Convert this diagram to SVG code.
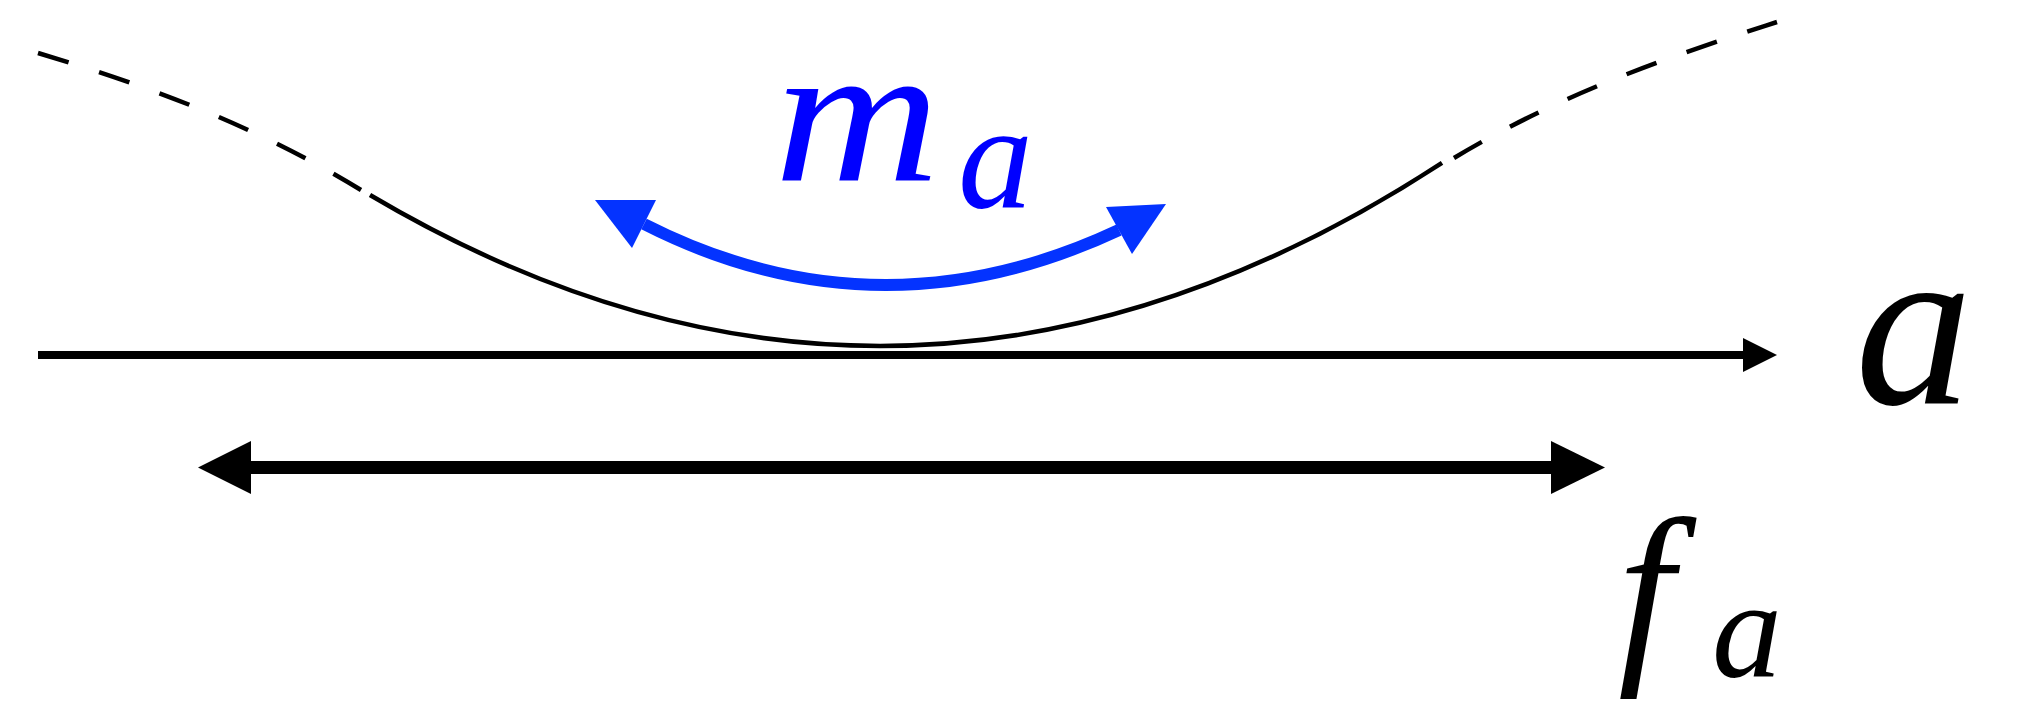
<svg xmlns="http://www.w3.org/2000/svg" width="2019" height="708" viewBox="0 0 2019 708">
  <style>
    .curve { fill: none; stroke: #000; stroke-width: 4.5; }
    .dash { stroke-dasharray: 32 32; }
    .blk { fill: #000; }
    .blue { fill: #0433ff; }
    .math { font-family: "Liberation Serif", "DejaVu Serif", serif; font-style: italic; }
  </style>
  <rect width="2019" height="708" fill="#fff"/>
  <g id="connectors">
    <g id="potential">
      <path class="curve dash" d="M38,53 C146,85.4 253,124 361,190"/>
      <path class="curve" d="M370,195 Q906,512.2 1442,162.8"/>
      <path class="curve dash" d="M1454,158 C1562,93.2 1669,56.6 1777,22"/>
    </g>
    <g id="axis">
      <line x1="38" y1="355" x2="1744" y2="355" stroke="#000" stroke-width="8"/>
      <polygon class="blk" points="1743,338 1777,355 1743,372"/>
    </g>
    <g id="fa-arrow">
      <line x1="250" y1="467.5" x2="1552" y2="467.5" stroke="#000" stroke-width="13"/>
      <polygon class="blk" points="251,441 198,467.5 251,494"/>
      <polygon class="blk" points="1551,441 1605,467.5 1551,494"/>
    </g>
    <g id="ma-arrow">
      <path d="M644,224 Q878,343 1119,230" fill="none" stroke="#0433ff" stroke-width="12"/>
      <polygon class="blue" points="656,200 595,200 632,248"/>
      <polygon class="blue" points="1106,207 1166,204 1132,254"/>
    </g>
  </g>
  <g id="label-ma">
    <text class="math" x="774" y="181" font-size="200" fill="#0000ff" textLength="166" lengthAdjust="spacingAndGlyphs">m</text>
    <text class="math" x="958" y="207" font-size="150" fill="#0000ff">a</text>
  </g>
  <g id="label-a">
    <text class="math" x="1855" y="404" font-size="235" fill="#000">a</text>
  </g>
  <g id="label-fa">
    <text class="math" x="1618" y="657" font-size="200" fill="#000">f</text>
    <text class="math" x="1712" y="677" font-size="140" fill="#000">a</text>
  </g>
</svg>
